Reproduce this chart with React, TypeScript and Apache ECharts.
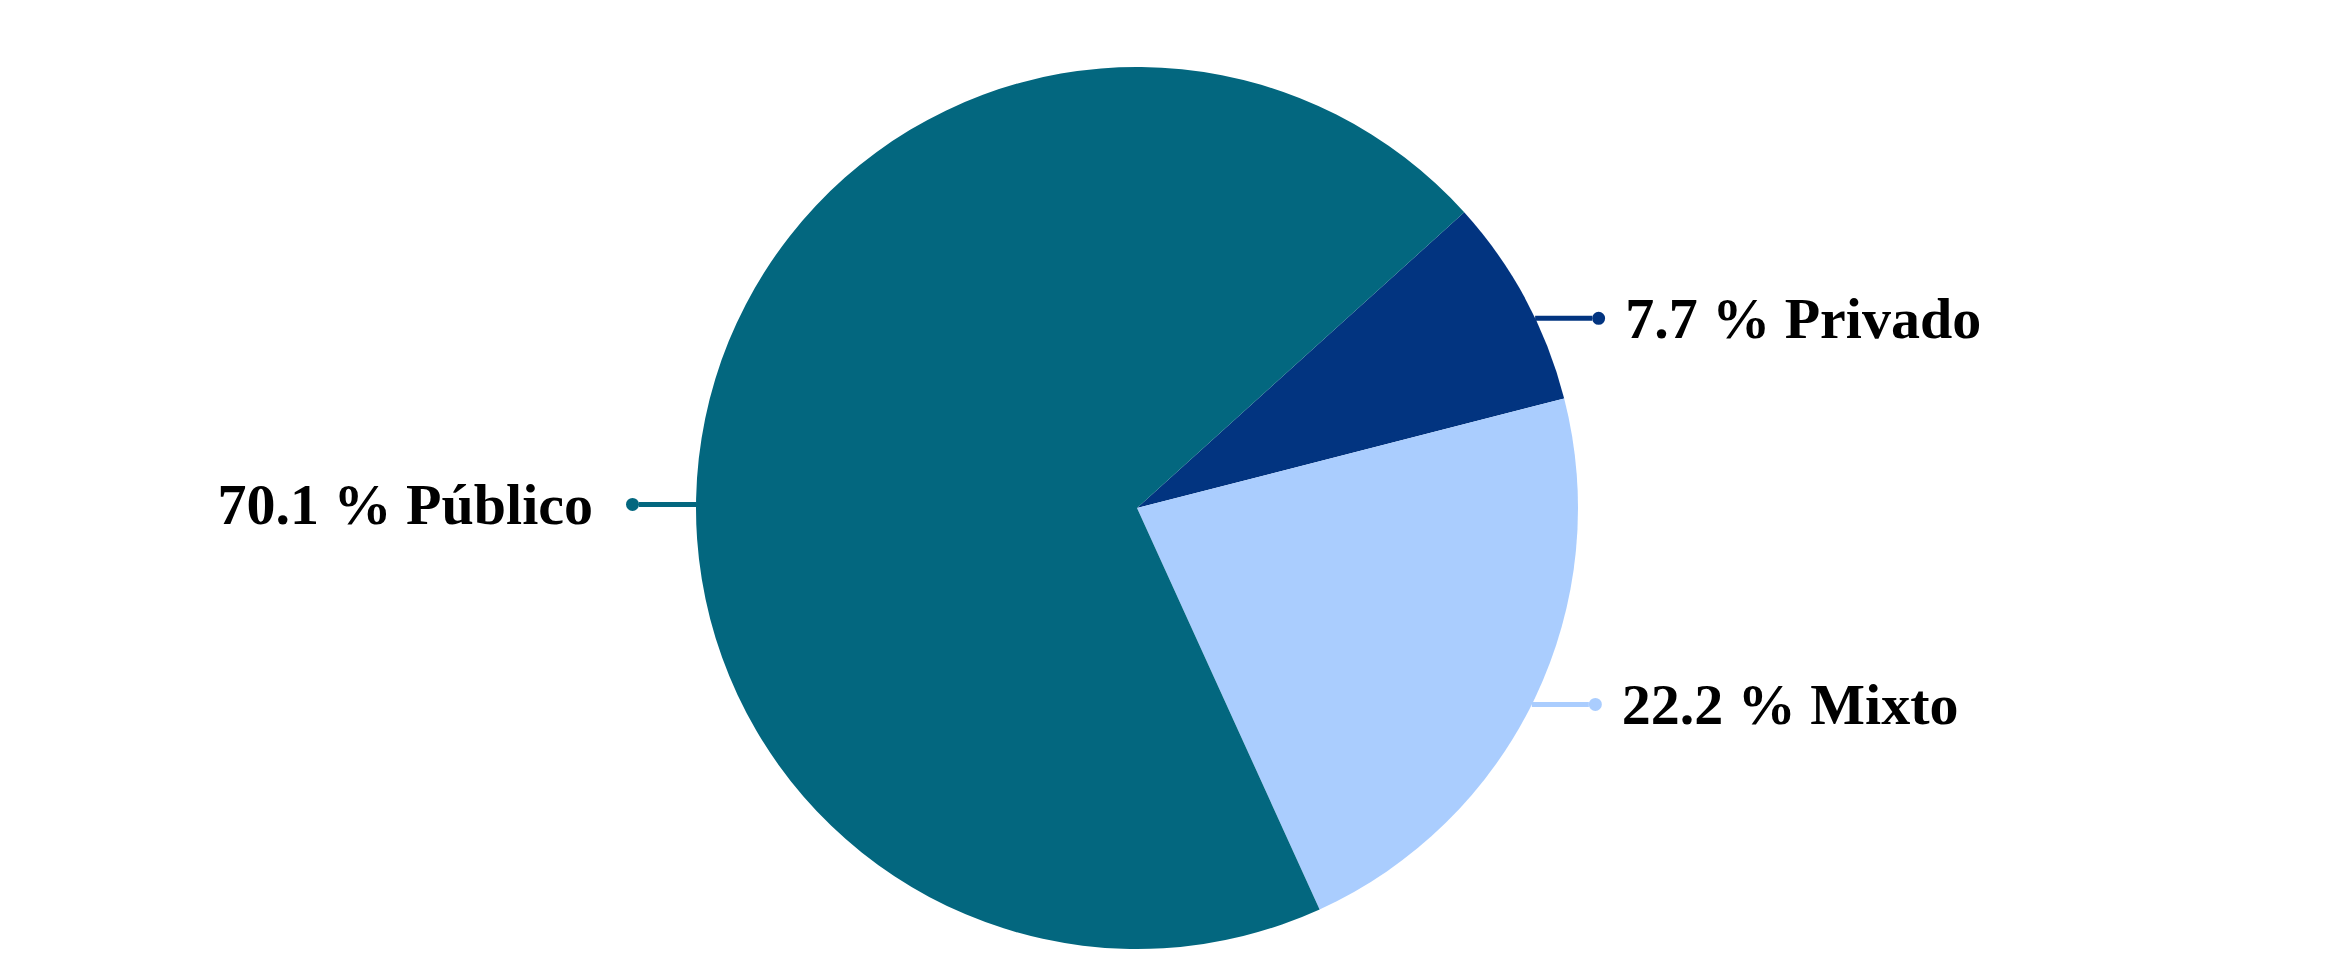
import React, { useEffect, useRef } from "react";
import * as echarts from "echarts";

// Data
const NAMES: string[] = ["Privado", "Mixto", "Público"];
const VALUES: number[] = [7.7, 22.2, 70.1];
const COLORS: string[] = ["#023480", "#aacdfe", "#03677f"];

// Layout / style constants
const W = 2329;
const H = 960;
const CENTER: [number, number] = [1137, 508];
const RADIUS = 441;
const LEN2 = 57;
const LABEL_NUDGE: Record<string, number> = { Privado: 19, Mixto: 6, "Público": 86 };

export default function App() {
  const ref = useRef<HTMLDivElement>(null);

  useEffect(() => {
    document.body.style.margin = "0";
    document.body.style.overflow = "hidden";
    if (!ref.current) return;
    const chart = echarts.init(ref.current, undefined, { renderer: "svg", width: W, height: H });

    const rich: Record<string, any> = {
      t: {
        fontSize: 58,
        fontWeight: "bold",
        fontFamily: "Liberation Serif",
        color: "#000",
        verticalAlign: "middle",
      },
      gapL: { width: 33, height: 10 },
      gapR: { width: 20, height: 10 },
    };
    COLORS.forEach((c, i) => {
      rich["dot" + i] = {
        width: 13,
        height: 13,
        borderRadius: 6.5,
        backgroundColor: c,
        verticalAlign: "middle",
      };
    });

    const option: any = {
      animation: false,
      backgroundColor: "#ffffff",
      series: [
        {
          type: "pie",
          center: CENTER,
          radius: RADIUS,
          startAngle: 42.1,
          clockwise: true,
          silent: true,
          avoidLabelOverlap: false,
          data: NAMES.map((n, i) => ({
            name: n,
            value: VALUES[i],
            itemStyle: { color: COLORS[i] },
          })),
          label: {
            show: true,
            position: "outside",
            distanceToLabelLine: 0,
            formatter: (p: any) => {
              const txt = `${Number(p.value).toFixed(1)} % ${p.name}`;
              const isLeft = p.name === "Público";
              return isLeft
                ? `{t|${txt}}{gapL|}{dot${p.dataIndex}|}`
                : `{dot${p.dataIndex}|}{gapR|}{t|${txt}}`;
            },
            rich,
          },
          labelLine: {
            show: true,
            length: 0,
            length2: LEN2,
            smooth: false,
            lineStyle: { width: 5 },
          },
          labelLayout: (p: any) => {
            const pts = p.labelLinePoints;
            if (!pts || pts.length < 3) return {};
            const name = NAMES[p.dataIndex];
            const left = pts[2][0] < pts[0][0];
            const y = pts[0][1] + (LABEL_NUDGE[name] || 0);
            const dy = y - CENTER[1];
            const ex = CENTER[0] + (left ? -1 : 1) * Math.sqrt(Math.max(0, RADIUS * RADIUS - dy * dy));
            const endX = ex + (left ? -1 : 1) * LEN2;
            return {
              x: endX,
              y,
              labelLinePoints: [
                [ex, y],
                [ex, y],
                [endX, y],
              ],
            };
          },
          itemStyle: { borderWidth: 0 },
          emphasis: { disabled: true },
        },
      ],
    };

    chart.setOption(option);
    return () => {
      chart.dispose();
    };
  }, []);

  return <div ref={ref} style={{ width: W, height: H }} />;
}
